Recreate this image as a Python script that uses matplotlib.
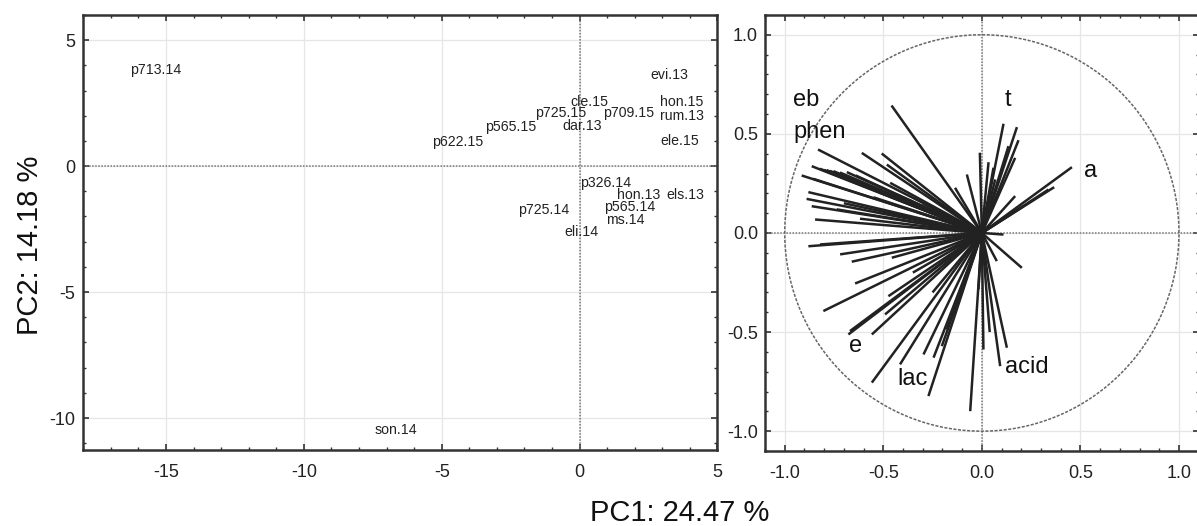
import numpy as np
import matplotlib
matplotlib.use("Agg")
import matplotlib.pyplot as plt

plt.rcParams['font.family'] = ['Liberation Sans', 'DejaVu Sans']
plt.rcParams['axes.unicode_minus'] = False

# PCA scores (case labels)
case_names = ["p713.14", "evi.13", "cle.15", "hon.15", "p725.15", "p709.15", "rum.13",
              "p565.15", "dar.13", "p622.15", "ele.15", "p326.14", "hon.13", "els.13",
              "p725.14", "p565.14", "ms.14", "eli.14", "son.14"]
pc1_scores = [-16.3, 2.58, -0.33, 2.93, -1.6, 0.84, 2.91, -3.42, -0.62, -5.35, 2.95,
              0.01, 1.36, 3.16, -2.22, 0.90, 0.96, -0.56, -7.45]
pc2_scores = [3.82, 3.60, 2.54, 2.54, 2.09, 2.09, 1.98, 1.55, 1.59, 0.95, 0.99,
              -0.66, -1.14, -1.14, -1.76, -1.63, -2.15, -2.62, -10.46]

# variable loadings (end points of the vectors)
load_x = [-0.458, -0.831, -0.609, -0.508, -0.482, -0.863, -0.914, -0.821, -0.800, -0.787,
          -0.770, -0.753, -0.720, -0.685, -0.855, -0.640, -0.465, -0.516, -0.880, -0.889,
          -0.863, -0.736, -0.846, -0.618, -0.700, -0.550, -0.136, -0.076, -0.010, -0.300,
          0.110, 0.178, 0.186, 0.169, 0.135, 0.034, 0.059, 0.068, 0.457, 0.367,
          0.338, 0.169, 0.210, 0.110,
          0.203, 0.076, 0.093, 0.127, 0.008, 0.040,
          -0.880, -0.821, -0.719, -0.660, -0.457, -0.643, -0.474, -0.804, -0.677, -0.669,
          -0.558, -0.491, -0.558, -0.415, -0.296, -0.245, -0.271, -0.203, -0.059, -0.017,
          -0.110, -0.146, -0.178, -0.350, -0.250]
load_y = [0.643, 0.421, 0.404, 0.401, 0.345, 0.337, 0.290, 0.324, 0.318, 0.317,
          0.313, 0.312, 0.305, 0.307, 0.273, 0.290, 0.253, 0.203, 0.206, 0.172,
          0.135, 0.119, 0.068, 0.072, 0.150, 0.180, 0.228, 0.295, 0.405, 0.150,
          0.551, 0.534, 0.468, 0.379, 0.438, 0.357, 0.329, 0.270, 0.332, 0.231,
          0.219, 0.186, 0.135, -0.008,
          -0.176, -0.142, -0.672, -0.579, -0.588, -0.500,
          -0.067, -0.058, -0.108, -0.145, -0.125, -0.255, -0.319, -0.394, -0.512, -0.495,
          -0.512, -0.411, -0.755, -0.663, -0.613, -0.629, -0.823, -0.571, -0.899, -0.285,
          -0.319, -0.386, -0.487, -0.200, -0.300]

group_names = ["eb", "phen", "t", "a", "e", "lac", "acid"]
group_x = [-0.958, -0.958, 0.118, 0.52, -0.674, -0.43, 0.118]
group_y = [0.673, 0.507, 0.673, 0.315, -0.572, -0.739, -0.678]

fig = plt.figure(figsize=(11.97, 5.26), dpi=100)
ax1 = fig.add_axes([0.0696, 0.1445, 0.5297, 0.827])
ax2 = fig.add_axes([0.6391, 0.1426, 0.3623, 0.829])

def style_axes(ax, minor):
    ax.grid(True, color='#e6e6e6', lw=0.9, zorder=0)
    ax.set_axisbelow(True)
    ax.xaxis.set_minor_locator(matplotlib.ticker.MultipleLocator(minor[0]))
    ax.yaxis.set_minor_locator(matplotlib.ticker.MultipleLocator(minor[1]))
    ax.tick_params(which='both', direction='in', top=True, right=True,
                   labelsize=13, colors='#333333', labelcolor='#222222')
    ax.tick_params(which='major', length=4, width=1.2)
    ax.tick_params(axis='x', which='major', pad=10)
    ax.tick_params(axis='y', which='major', pad=6)
    ax.tick_params(which='minor', length=2.5, width=1)
    for s in ax.spines.values():
        s.set_linewidth(1.8)
        s.set_color('#333333')
    ax.axhline(0, color='#777777', lw=1.1, ls=(0, (1, 1)), zorder=1)
    ax.axvline(0, color='#777777', lw=1.1, ls=(0, (1, 1)), zorder=1)

# left: scores
style_axes(ax1, (1, 1))
ax1.set_xlim(-18, 5)
ax1.set_ylim(-11.27, 6)
ax1.set_xticks([-15, -10, -5, 0, 5])
ax1.set_yticks([5, 0, -5, -10])
for name, x, y in zip(case_names, pc1_scores, pc2_scores):
    ax1.text(x, y, name, fontsize=10.2, color='#222222', ha='left', va='center', zorder=3)

# right: loadings
style_axes(ax2, (0.1, 0.1))
ax2.set_xlim(-1.1, 1.1)
ax2.set_ylim(-1.1, 1.1)
ax2.set_xticks([-1.0, -0.5, 0.0, 0.5, 1.0])
ax2.set_yticks([1.0, 0.5, 0.0, -0.5, -1.0])
ax2.tick_params(axis='y', which='major', pad=5)
ax2.xaxis.set_major_formatter(matplotlib.ticker.FormatStrFormatter('%.1f'))
ax2.yaxis.set_major_formatter(matplotlib.ticker.FormatStrFormatter('%.1f'))
t = np.linspace(0, 2 * np.pi, 400)
ax2.plot(np.cos(t), np.sin(t), color='#666666', lw=1.1, ls=(0, (2, 1)), zorder=1)
for x, y in zip(load_x, load_y):
    ax2.plot([0, x], [0, y], color='#222222', lw=1.8, solid_capstyle='butt', zorder=2)
for name, x, y in zip(group_names, group_x, group_y):
    ax2.text(x, y, name, fontsize=17, color='#111111', ha='left', va='center', zorder=3)

fig.text(680 / 1197, 1 - 513 / 526, "PC1: 24.47 %", fontsize=21, ha='center', va='center',
         color='#111111')
fig.text(30 / 1197, 1 - 245 / 526, "PC2: 14.18 %", fontsize=21, ha='center', va='center',
         rotation=90, color='#111111')

fig.savefig("out.png", dpi=100)
